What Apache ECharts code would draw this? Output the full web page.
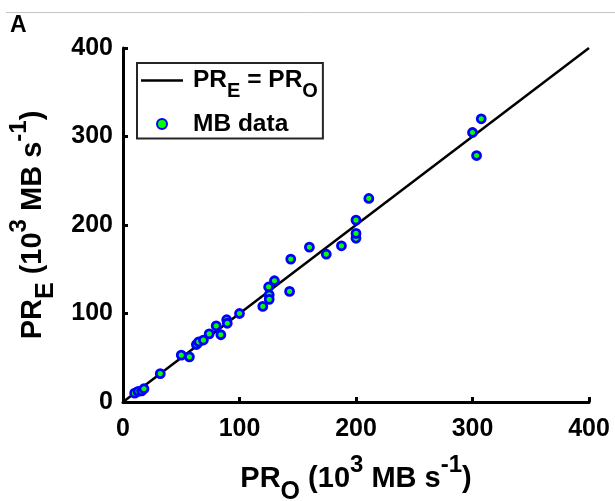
<!DOCTYPE html>
<html>
<head>
<meta charset="utf-8">
<script src="https://cdn.jsdelivr.net/npm/echarts@6/dist/echarts.min.js"></script>
<style>
  html, body { margin: 0; padding: 0; background: #fff; }
  #chart { width: 615px; height: 501px; }
</style>
</head>
<body>
<div id="chart"></div>
<script>
// Observed production rate (10^3 MB s^-1)
const prObserved = [
  10, 13, 16, 18, 32, 50, 57, 63, 65, 69,
  74, 80, 84, 89, 89.5, 100, 120, 125, 125.5, 125.5,
  130, 143, 144, 160, 174.5, 187.5, 200, 200, 200, 211,
  300, 307.5, 303.5
];
// Estimated production rate (10^3 MB s^-1)
const prEstimated = [
  10, 12, 12.5, 15, 32, 53, 51, 65, 68, 70,
  77, 86, 76, 93, 89, 100, 108, 130, 121, 116,
  137, 125, 161.5, 175, 167, 176.5, 185, 190.5, 205.5, 230,
  304.5, 320, 278.5
];
// 1:1 reference line end points
const identityX = [0, 400];
const identityY = [0, 400];
const axisTicks = [0, 100, 200, 300, 400];

const FONT = 'Liberation Sans, Arial, Helvetica, sans-serif';
const NAMES = { line: 'PR_E = PR_O', data: 'MB data' };
const LEGEND_TEXT = {
  'PR_E = PR_O': '{a|PR}{s|E}{a| = PR}{s|O}',
  'MB data': '{b|MB data}'
};

const points = prObserved.map((x, i) => [x, prEstimated[i]]);
const lineData = identityX.map((x, i) => [x, identityY[i]]);

const axisCommon = {
  type: 'value',
  min: axisTicks[0],
  max: axisTicks[axisTicks.length - 1],
  interval: axisTicks[1] - axisTicks[0],
  splitLine: { show: false },
  axisLine: { show: true, lineStyle: { color: '#000', width: 3 } },
  axisTick: { show: true, inside: true, length: 5, lineStyle: { color: '#000', width: 3 } },
  axisLabel: { color: '#000', fontFamily: FONT, fontWeight: 'bold', fontSize: 25 },
  nameLocation: 'middle'
};

// axis titles: bold text with sub/superscripts
const nameRich = {
  a: { fontFamily: FONT, fontWeight: 'bold', fontSize: 29, color: '#000', lineHeight: 52 },
  sup: { fontFamily: FONT, fontWeight: 'bold', fontSize: 24, color: '#000', verticalAlign: 'top', lineHeight: 24 },
  sub: { fontFamily: FONT, fontWeight: 'bold', fontSize: 25, color: '#000', verticalAlign: 'bottom', lineHeight: 25 }
};

const chart = echarts.init(document.getElementById('chart'), null, { renderer: 'canvas' });
chart.setOption({
  animation: false,
  backgroundColor: '#fff',
  grid: { left: 123, right: 26, top: 48, bottom: 99, containLabel: false, outerBoundsMode: 'none' },
  xAxis: Object.assign({}, axisCommon, {
    name: '{a|PR}{sub|O}{a| (10}{sup|3}{a| MB s}{sup|-1}{a|)}',
    nameGap: 51,
    nameTextStyle: { rich: nameRich },
    axisLabel: Object.assign({}, axisCommon.axisLabel, { margin: 15 })
  }),
  yAxis: Object.assign({}, axisCommon, {
    name: '{a|PR}{sub|E}{a| (10}{sup|3}{a| MB s}{sup|-1}{a|)}',
    nameGap: 64,
    nameTextStyle: { rich: nameRich },
    axisLabel: Object.assign({}, axisCommon.axisLabel, { margin: 10 })
  }),
  legend: {
    orient: 'vertical',
    left: 137,
    top: 63,
    itemWidth: 42,
    itemHeight: 10,
    itemGap: 10,
    padding: [5, 5, 2, 4],
    borderColor: '#262626',
    borderWidth: 2,
    backgroundColor: '#fff',
    data: [
      { name: NAMES.line, icon: 'path://M0,0L42,0L42,2.5L0,2.5Z' },
      { name: NAMES.data }
    ],
    formatter: name => LEGEND_TEXT[name],
    textStyle: {
      color: '#000',
      padding: [0, 0, 0, 5],
      rich: {
        a: { fontFamily: FONT, fontWeight: 'bold', fontSize: 24.5, color: '#000', lineHeight: 42 },
        s: { fontFamily: FONT, fontWeight: 'bold', fontSize: 20, color: '#000', verticalAlign: 'bottom', lineHeight: 20 },
        b: { fontFamily: FONT, fontWeight: 'bold', fontSize: 24.5, color: '#000', lineHeight: 28 }
      }
    }
  },
  graphic: [
    { type: 'line', shape: { x1: 6, y1: 12.5, x2: 615, y2: 12.5 }, style: { stroke: '#c4c4c4', lineWidth: 1 }, silent: true },
    { type: 'text', left: 10, top: 14, style: { text: 'A', fontFamily: FONT, fontWeight: 'bold', fontSize: 23, fill: '#000' }, silent: true }
  ],
  series: [
    {
      name: NAMES.line,
      type: 'line',
      data: lineData,
      symbol: 'none',
      lineStyle: { color: '#000', width: 2.5 },
      itemStyle: { color: '#000' },
      z: 2
    },
    {
      name: NAMES.data,
      type: 'scatter',
      data: points,
      symbol: 'circle',
      symbolSize: 8,
      itemStyle: { color: '#00ff00', borderColor: '#0000ff', borderWidth: 2.8, opacity: 1 },
      z: 3
    }
  ]
});
</script>
</body>
</html>
